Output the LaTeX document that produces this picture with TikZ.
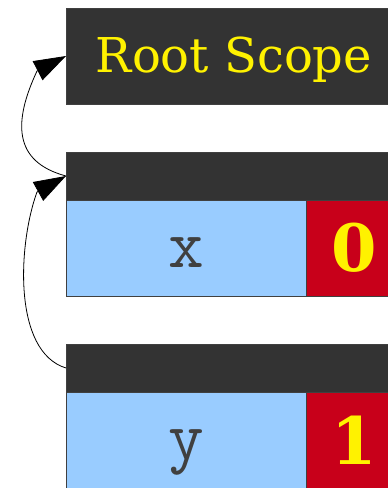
\documentclass[tikz,border=0pt]{standalone}
\usepackage{fontspec}
\usepackage{tikz}
\usetikzlibrary{positioning, arrows.meta, calc}

\definecolor{scopedark}{HTML}{333333}
\definecolor{namefill}{HTML}{99CCFF}
\definecolor{valfill}{HTML}{C8001A}
\definecolor{nametext}{HTML}{404040}
\newfontfamily\scopefont{DejaVu Serif}

\begin{document}
\begin{tikzpicture}[->, >={Triangle[length=24pt, width=16pt]}, line width=0.6pt,
    x=0.75pt, y=-0.75pt,
    scopebox/.style={rectangle, draw=black!75, fill=scopedark, inner sep=0pt, outer sep=0pt, minimum width=252pt},
    namebox/.style={rectangle, draw=black!75, fill=namefill, inner sep=0pt, outer sep=0pt, minimum width=180pt, minimum height=72pt, text=nametext, text height=30pt, text depth=1.5pt, font={\ttfamily\fontsize{52}{56}\selectfont}},
    valbox/.style={rectangle, draw=black!75, fill=valfill, inner sep=0pt, outer sep=0pt, minimum width=72pt, minimum height=72pt, text=yellow, font={\scopefont\bfseries\fontsize{49}{52}\selectfont}}]

    \useasboundingbox (0,0) rectangle (388,488);

    % Root scope
    \node[scopebox, minimum height=72pt, anchor=north west, text=yellow, text height=27pt, text depth=1.5pt, font={\scopefont\fontsize{36}{40}\selectfont}] (root) at (66,8) {Root Scope};

    % Scope with x
    \node[scopebox, minimum height=36pt, below=36pt of root] (hx) {};
    \node[namebox, anchor=north west] (nx) at (hx.south west) {x};
    \node[valbox, right=0pt of nx] (vx) {0};

    % Scope with y
    \node[scopebox, minimum height=36pt, below=36pt of nx.south west, anchor=north west] (hy) {};
    \node[namebox, anchor=north west] (ny) at (hy.south west) {y};
    \node[valbox, right=0pt of ny] (vy) {1};

    % Parent links (curve ends at the arrow base)
    \coordinate (rootin) at ($(root.west)+(-29,15)$);
    \coordinate (hxin) at ($(hx.west)+(-29,16)$);
    \draw (hx.west) to[out=165, in=245, looseness=1.3] (rootin) -- (root.west);
    \draw (hy.west) to[out=163, in=250, looseness=0.8] (hxin) -- (hx.west);
\end{tikzpicture}
\end{document}
